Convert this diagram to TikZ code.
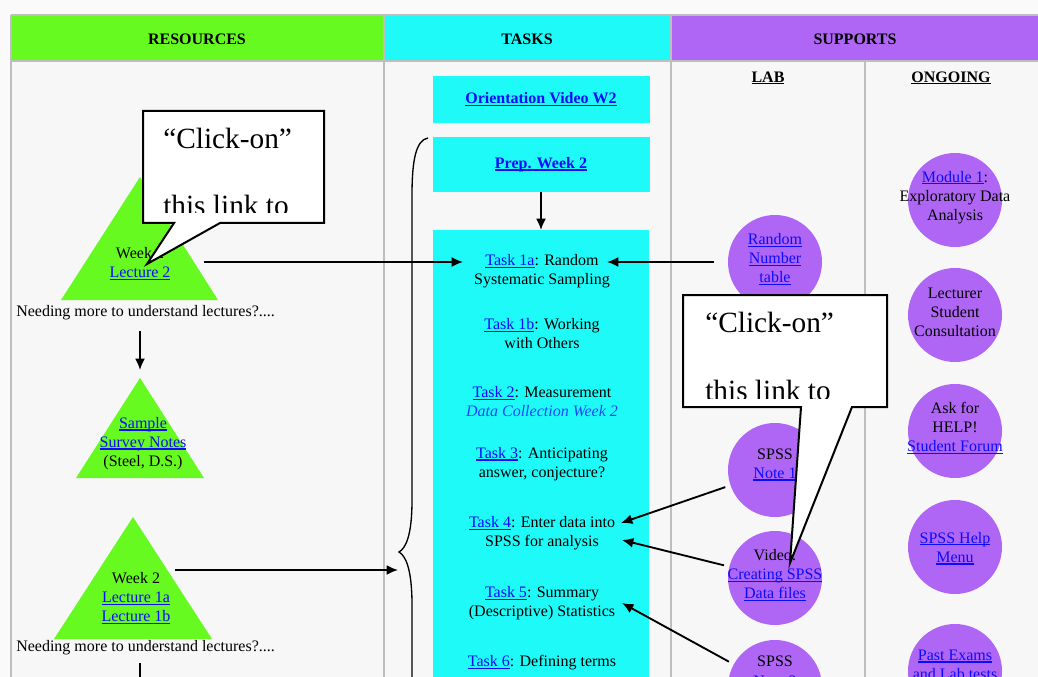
\documentclass[tikz,border=0pt]{standalone}
\usepackage{fontspec}
\setmainfont{Liberation Serif}
\usetikzlibrary{arrows.meta}
\definecolor{resgreen}{RGB}{102,250,33}
\definecolor{taskcyan}{RGB}{30,250,248}
\definecolor{suppurple}{RGB}{176,102,245}
\definecolor{gridgray}{RGB}{190,190,190}
\definecolor{bggray}{RGB}{247,247,247}
\definecolor{topwhite}{RGB}{250,250,250}
\definecolor{linkblue}{RGB}{12,12,250}
\definecolor{dcblue}{RGB}{30,70,255}
\newcommand{\lnk}[1]{\textcolor{linkblue}{\setbox0\hbox{#1}\rlap{\rule[-1.7pt]{\wd0}{0.85pt}}\box0}}
\newcommand{\ulin}[1]{\setbox0\hbox{#1}\rlap{\rule[-1.7pt]{\wd0}{0.85pt}}\box0}

\begin{document}
\begin{tikzpicture}[x=0.75pt,y=-0.75pt,font=\fontsize{12}{14.3}\selectfont,
  arr/.style={-{Latex[length=8.5pt,width=7.5pt]},line width=1.4pt},
  txt/.style={align=center,inner sep=0pt},
  hdr/.style={font=\fontsize{12}{14.3}\selectfont\bfseries},
  tbox/.style={fill=taskcyan,minimum width=162.75pt,inner sep=0pt},
  blob/.style args={#1/#2}{circle,fill=suppurple,minimum size=70.5pt,inner sep=0pt,label={[txt,yshift=#1]center:{#2}}},
  grid/.style={draw=gridgray,line width=1.5pt},
  callout/.style={fill=white,draw=black,line width=1.5pt},
  big/.style={font=\fontsize{22}{26}\selectfont,inner sep=0pt}]
\useasboundingbox (0,0) rectangle (1038,677);
\clip (0,0) rectangle (1038,677);
\fill[topwhite] (0,0) rectangle (1038,677);
\fill[bggray] (11,15) rectangle (1040,680);
\fill[resgreen] (11,15) rectangle (384,61);
\fill[taskcyan] (384,15) rectangle (671,61);
\fill[suppurple] (671,15) rectangle (1040,61);
\draw[grid] (11,15) -- (1040,15) (11,61) -- (1040,61) (11,15) -- (11,680) (384,15) -- (384,680) (671,15) -- (671,680) (865,61) -- (865,680);
\node (hres) [hdr] at (197,39) {RESOURCES};
\node (htask) [hdr] at (527,39) {TASKS};
\node (hsup) [hdr] at (855,39) {SUPPORTS};
\node (hlab) [hdr] at (768,78) {\ulin{LAB}};
\node (hgo) [hdr] at (951,78) {\ulin{ONGOING}};

\node (orient) [tbox,minimum height=35.25pt] at (541,99.5) {\bfseries\lnk{Orientation Video W2}};
\node (prep) [tbox,minimum height=41.25pt] at (541,164.5) {\bfseries\lnk{Prep. Week 2}};
\fill[taskcyan] (433,230) rectangle (649,690);
\coordinate (tasktop) at (541,230);
\node (t1a) [txt] at (542,271.5) {\lnk{Task 1a}: Random\\Systematic Sampling};
\node (t1b) [txt] at (542,333.5) {\lnk{Task 1b}: Working\\with Others};
\node (t2) [txt] at (542,401.5) {\lnk{Task 2}: Measurement\\\textcolor{dcblue}{\itshape Data Collection Week 2}};
\node (t3) [txt] at (542,464) {\lnk{Task 3}: Anticipating\\answer, conjecture?};
\node (t4) [txt] at (542,533.5) {\lnk{Task 4}: Enter data into\\SPSS for analysis};
\node (t5) [txt] at (542,603.5) {\lnk{Task 5}: Summary\\(Descriptive) Statistics};
\node (t6) [txt] at (542,663) {\lnk{Task 6}: Defining terms};
\draw[line width=1pt] (428,138) .. controls (416,140) and (412,160) .. (412,195) -- (412,500) .. controls (412,535) and (406,548) .. (399,552) .. controls (406,556) and (412,570) .. (412,605) -- (412,690);

\fill[resgreen] (61,300) -- (140,177) -- (218,300) -- cycle;
\fill[resgreen] (76,478) -- (140,378) -- (204,478) -- cycle;
\fill[resgreen] (54,639) -- (133,517) -- (212,639) -- cycle;
\node (lec2) [txt] at (140,263.5) {Week 2\\\lnk{Lecture 2}};
\node (notes) [txt] at (143,443.5) {\lnk{Sample}\\\lnk{Survey Notes}\\(Steel, D.S.)};
\node (lec1) [txt] at (136,598) {Week 2\\\lnk{Lecture 1a}\\\lnk{Lecture 1b}};
\node (need1) [anchor=west,inner sep=0pt] at (16,313) {Needing more to understand lectures?....};
\node (need2) [anchor=west,inner sep=0pt] at (16,648) {Needing more to understand lectures?....};

\node (rnd) [blob={2pt/\lnk{Random}\\\lnk{Number}\\\lnk{table}}] at (775,262) {};
\node (sp1) [blob={4pt/SPSS\\\lnk{Note 1}}] at (775,470) {};
\node (vid) [blob={2pt/Video:\\\lnk{Creating SPSS}\\\lnk{Data files}}] at (775,578) {};
\node (sp2) [blob={11pt/SPSS\\\lnk{Note 2}}] at (775,687) {};
\node (mod1) [blob={2pt/\lnk{Module 1}:\\Exploratory Data\\Analysis}] at (955,200) {};
\node (lect) [blob={2pt/Lecturer\\Student\\Consultation}] at (955,315) {};
\node (help) [blob={2pt/Ask for\\HELP!\\\lnk{Student Forum}}] at (955,431) {};
\node (spmenu) [blob={-1pt/\lnk{SPSS Help}\\\lnk{Menu}}] at (955,547) {};
\node (past) [blob={4pt/\lnk{Past Exams}\\\lnk{and Lab tests}}] at (955,671) {};

\coordinate (l2out) at (204,262);
\coordinate (t1ain) at (463,262);
\coordinate (t1aright) at (607,262);
\coordinate (dn1) at (140,331);
\coordinate (dn2) at (140,370);
\coordinate (dn3) at (140,663);
\coordinate (dn4) at (140,690);
\coordinate (l1out) at (175,570);
\coordinate (bracein) at (398,570);
\coordinate (t4a) at (621,523);
\coordinate (t4b) at (622,540);
\coordinate (t5in) at (622,603);
\foreach \from/\to in {l2out/t1ain, dn1/dn2, l1out/bracein, prep/tasktop}
\draw[arr] (\from) -- (\to);
\draw[arr,shorten <=10.5pt] (rnd) -- (t1aright);
\foreach \from/\to in {sp1/t4a, vid/t4b, sp2/t5in}
\draw[arr,shorten <=4pt] (\from) -- (\to);
\draw[line width=1.4pt] (dn3) -- (dn4);

\draw[callout] (143,111) -- (324,111) -- (324,223) -- (220,223) -- (147,264) -- (174,223) -- (143,223) -- cycle;
\begin{scope}
\clip (145,113) rectangle (322,213);
\node (co1a) [big,anchor=west] at (163,138) {“Click-on”};
\node (co1b) [big,anchor=west] at (163,205) {this link to};
\end{scope}
\draw[callout] (683,295) -- (887,295) -- (887,407) -- (852,407) -- (790,563) -- (801,407) -- (683,407) -- cycle;
\begin{scope}
\clip (685,297) rectangle (885,398);
\node (co2a) [big,anchor=west] at (705,322) {“Click-on”};
\node (co2b) [big,anchor=west] at (705,390) {this link to};
\end{scope}
\end{tikzpicture}
\end{document}
